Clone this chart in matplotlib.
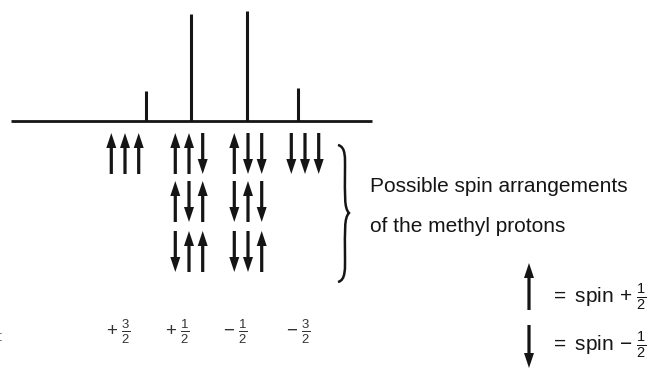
import matplotlib.pyplot as plt
from matplotlib.path import Path
from matplotlib.patches import PathPatch

plt.rcParams['font.family'] = ['Liberation Sans', 'DejaVu Sans']
plt.rcParams['mathtext.fontset'] = 'custom'
plt.rcParams['mathtext.rm'] = 'Liberation Sans'
plt.rcParams['mathtext.it'] = 'Liberation Sans:italic'
plt.rcParams['mathtext.default'] = 'regular'

# quartet lines of the methyl group (position, height)
peak_shift = [146, 191, 247, 298]
peak_height = [30, 107, 110, 33]

# spin arrangements of the three methyl protons, u = up (+1/2), d = down (-1/2)
arrangements = [
    ["uuu"],
    ["uud", "udu", "duu"],
    ["udd", "dud", "ddu"],
    ["ddd"],
]
total_spin = [r"$+\;\frac{3}{2}$", r"$+\;\frac{1}{2}$", r"$-\;\frac{1}{2}$", r"$-\;\frac{3}{2}$"]

note_lines = ["Possible spin arrangements", "of the methyl protons"]
key_labels = [r"$=$ spin $+\;\frac{1}{2}$", r"$=$ spin $-\;\frac{1}{2}$"]

# layout (pixel like units, y grows downwards)
W, H = 657, 368
baseline_y = 121
baseline_x = (11, 372)
group_x = [125, 189, 248, 305]
label_x = [118, 177, 235, 298]
arrow_gap = 13.7
row_top = [133, 181, 231]
arrow_len = 41
ink = '#151515'

fig = plt.figure(figsize=(W / 100, H / 100), dpi=100)
ax = fig.add_axes([0, 0, 1, 1])
ax.set_xlim(0, W)
ax.set_ylim(H, 0)
ax.axis('off')


def spin_arrow(ax, x, top, length, up):
    kw = dict(width=3.2, head_width=10, head_length=15, length_includes_head=True,
              color=ink, lw=0)
    if up:
        ax.arrow(x, top + length, 0, -length, **kw)
    else:
        ax.arrow(x, top, 0, length, **kw)


# spectrum
ax.hlines(baseline_y, *baseline_x, color=ink, lw=2.0)
ax.vlines(peak_shift, baseline_y, [baseline_y - h for h in peak_height], color=ink, lw=2.2)

# arrangements under each line
for gx, rows in zip(group_x, arrangements):
    for r, pattern in enumerate(rows):
        for k, s in enumerate(pattern):
            spin_arrow(ax, gx + (k - 1) * arrow_gap, row_top[r], arrow_len, s == 'u')

# total spin labels
ax.text(-1, 337, ':', fontsize=10, color='#444444', ha='left', va='center')
for lx, lab in zip(label_x, total_spin):
    ax.text(lx, 332, lab, fontsize=13.5, color='#333333', ha='center', va='center')

# brace
brace = Path(
    [(338, 145), (346, 147), (345, 158), (345, 170),
     (345, 195), (344, 208), (349, 213),
     (344, 218), (345, 231), (345, 256),
     (345, 268), (346, 280), (338, 282)],
    [Path.MOVETO, Path.CURVE4, Path.CURVE4, Path.CURVE4,
     Path.CURVE4, Path.CURVE4, Path.CURVE4,
     Path.CURVE4, Path.CURVE4, Path.CURVE4,
     Path.CURVE4, Path.CURVE4, Path.CURVE4])
ax.add_patch(PathPatch(brace, fill=False, ec=ink, lw=1.8))

for i, line in enumerate(note_lines):
    ax.text(370, 187 + 39 * i, line, fontsize=15, color=ink, ha='left', va='center')

# key
spin_arrow(ax, 529, 263, 47, True)
spin_arrow(ax, 529, 325, 43, False)
for i, lab in enumerate(key_labels):
    ax.text(550, 297 + 48 * i, lab, fontsize=15, color=ink, ha='left', va='center')

fig.savefig('out.png', dpi=100, facecolor='white')
